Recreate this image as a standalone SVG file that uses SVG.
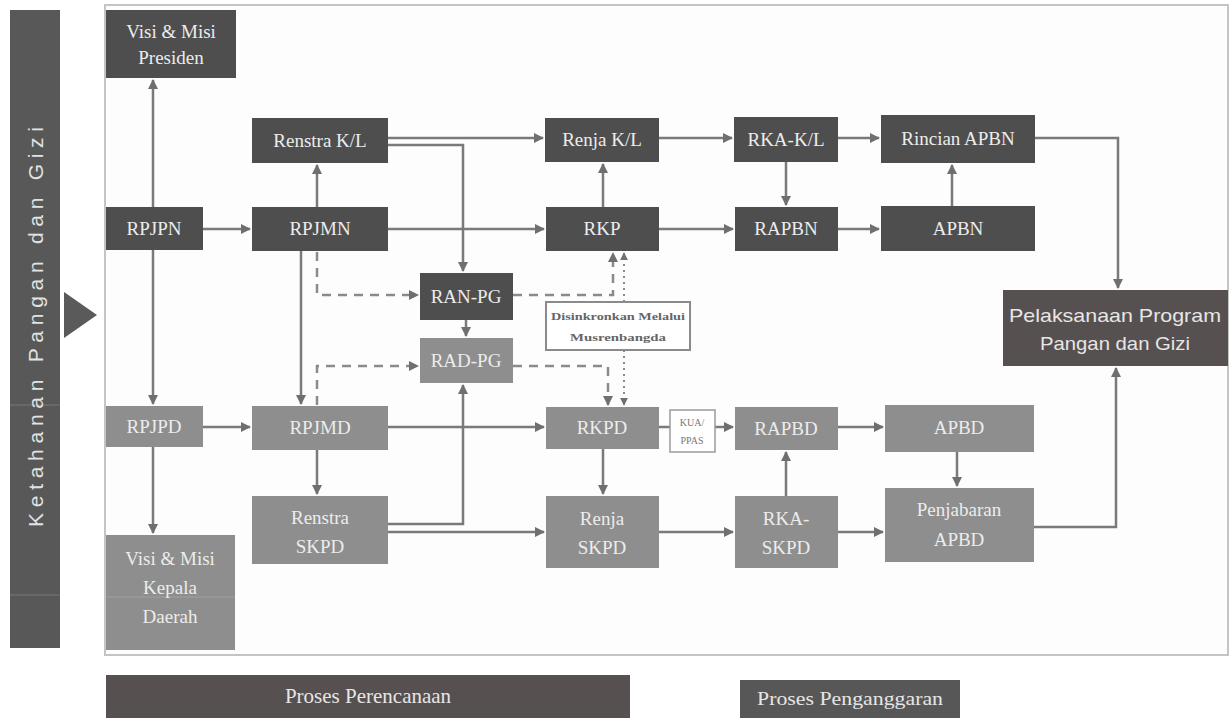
<svg xmlns="http://www.w3.org/2000/svg" width="1232" height="718" viewBox="0 0 1232 718">
<style>
.dk{fill:#4e4e4e}
.md{fill:#8e8e8e}
.t{font-family:"Liberation Serif",serif;font-size:19px;fill:#ececec;text-anchor:middle}
.ln{fill:none;stroke:#7a7a7a;stroke-width:2.5}
.ds{fill:none;stroke:#8a8a8a;stroke-width:2.5;stroke-dasharray:9 7}
.dt{fill:none;stroke:#8a8a8a;stroke-width:2;stroke-dasharray:2 4}
</style>
<defs>
<marker id="a" viewBox="0 0 10 10" refX="9" refY="5" markerWidth="4" markerHeight="4" orient="auto"><path d="M0,0 L10,5 L0,10 z" fill="#6f6f6f"/></marker>
</defs>
<rect width="1232" height="718" fill="#ffffff"/>
<rect x="105" y="5" width="1123" height="650" fill="#fdfdfd" stroke="#c4c4c4" stroke-width="2"/>
<g id="side">
<rect x="10" y="10" width="50" height="638" fill="#585858"/>
<line x1="10" y1="405" x2="60" y2="405" stroke="#777" stroke-width="1"/>
<line x1="10" y1="595" x2="60" y2="595" stroke="#777" stroke-width="1"/>
<text transform="translate(43,327) rotate(-90)" font-family="Liberation Sans,sans-serif" font-size="21" fill="#e2e2e2" text-anchor="middle" textLength="400" lengthAdjust="spacing">Ketahanan Pangan dan Gizi</text>
<path d="M64,292 L97,315 L64,338 z" fill="#5a5a5a"/>
</g>
<g id="connectors">
<path class="ln" d="M153,207 V80" marker-end="url(#a)"/>
<path class="ln" d="M203,229 H250" marker-end="url(#a)"/>
<path class="ln" d="M153,250 V404" marker-end="url(#a)"/>
<path class="ln" d="M317,207 V165" marker-end="url(#a)"/>
<path class="ln" d="M388,138 H543" marker-end="url(#a)"/>
<path class="ln" d="M388,145 H463 V271" marker-end="url(#a)"/>
<path class="ln" d="M388,229 H544" marker-end="url(#a)"/>
<path class="ln" d="M301,251 V404" marker-end="url(#a)"/>
<path class="ds" d="M317,252 V295 H418" marker-end="url(#a)"/>
<path class="ln" d="M603,207 V164" marker-end="url(#a)"/>
<path class="ln" d="M659,138 H732" marker-end="url(#a)"/>
<path class="ln" d="M786,162 V205" marker-end="url(#a)"/>
<path class="ln" d="M838,138 H879" marker-end="url(#a)"/>
<path class="ln" d="M659,229 H733" marker-end="url(#a)"/>
<path class="ln" d="M838,229 H879" marker-end="url(#a)"/>
<path class="ln" d="M952,206 V165" marker-end="url(#a)"/>
<path class="ln" d="M1035,138 H1118 V288" marker-end="url(#a)"/>
<path class="ln" d="M466,320 V336" marker-end="url(#a)"/>
<path class="ds" d="M513,295 H613 V253" marker-end="url(#a)"/>
<path class="dt" d="M624,302 V253" marker-end="url(#a)"/>
<path class="ds" d="M513,366 H608 V405" marker-end="url(#a)"/>
<path class="dt" d="M624,350 V405" marker-end="url(#a)"/>
<path class="ds" d="M317,405 V366 H418" marker-end="url(#a)"/>
<path class="ln" d="M203,427 H250" marker-end="url(#a)"/>
<path class="ln" d="M153,447 V533" marker-end="url(#a)"/>
<path class="ln" d="M317,450 V494" marker-end="url(#a)"/>
<path class="ln" d="M388,427 H544" marker-end="url(#a)"/>
<path class="ln" d="M388,524 H463 V385" marker-end="url(#a)"/>
<path class="ln" d="M388,532 H544" marker-end="url(#a)"/>
<path class="ln" d="M603,449 V494" marker-end="url(#a)"/>
<path class="ln" d="M659,427 H670"/>
<path class="ln" d="M715,427 H733" marker-end="url(#a)"/>
<path class="ln" d="M838,427 H883" marker-end="url(#a)"/>
<path class="ln" d="M786,496 V452" marker-end="url(#a)"/>
<path class="ln" d="M659,532 H733" marker-end="url(#a)"/>
<path class="ln" d="M838,532 H883" marker-end="url(#a)"/>
<path class="ln" d="M957,452 V486" marker-end="url(#a)"/>
<path class="ln" d="M1034,527 H1116 V368" marker-end="url(#a)"/>
</g>
<g id="visi-presiden"><rect class="dk" x="106" y="10" width="130" height="68"/><text class="t" x="171" y="38">Visi &amp; Misi</text><text class="t" x="171" y="64">Presiden</text></g>
<g id="rpjpn"><rect class="dk" x="106" y="207" width="97" height="43"/><text class="t" x="154" y="235">RPJPN</text></g>
<g id="renstra-kl"><rect class="dk" x="252" y="118" width="136" height="45"/><text class="t" x="320" y="147">Renstra K/L</text></g>
<g id="rpjmn"><rect class="dk" x="252" y="207" width="136" height="44"/><text class="t" x="320" y="235">RPJMN</text></g>
<g id="renja-kl"><rect class="dk" x="545" y="118" width="114" height="44"/><text class="t" x="602" y="146">Renja K/L</text></g>
<g id="rka-kl"><rect class="dk" x="734" y="117" width="104" height="45"/><text class="t" x="786" y="146">RKA-K/L</text></g>
<g id="rincian-apbn"><rect class="dk" x="881" y="115" width="154" height="48"/><text class="t" x="958" y="145">Rincian APBN</text></g>
<g id="rkp"><rect class="dk" x="546" y="207" width="113" height="44"/><text class="t" x="602" y="235">RKP</text></g>
<g id="rapbn"><rect class="dk" x="735" y="207" width="103" height="44"/><text class="t" x="786" y="235">RAPBN</text></g>
<g id="apbn"><rect class="dk" x="881" y="206" width="154" height="45"/><text class="t" x="958" y="235">APBN</text></g>
<g id="ran-pg"><rect class="dk" x="420" y="273" width="93" height="47"/><text class="t" x="466" y="303">RAN-PG</text></g>
<g id="rad-pg"><rect class="md" x="420" y="338" width="93" height="45"/><text class="t" x="466" y="367">RAD-PG</text></g>
<g id="note"><rect x="546" y="302" width="144" height="48" fill="#ffffff" stroke="#8a8a8a" stroke-width="2"/><text x="618" y="320" font-family="Liberation Serif,serif" font-size="11" font-weight="bold" fill="#666" text-anchor="middle" textLength="134" lengthAdjust="spacingAndGlyphs">Disinkronkan  Melalui</text><text x="618" y="341" font-family="Liberation Serif,serif" font-size="11" font-weight="bold" fill="#666" text-anchor="middle" textLength="96" lengthAdjust="spacingAndGlyphs">Musrenbangda</text></g>
<g id="pelaksanaan"><rect x="1003" y="290" width="225" height="76" fill="#575050"/><text x="1115" y="322" font-family="Liberation Sans,sans-serif" font-size="19" fill="#e6e6e6" text-anchor="middle" textLength="212" lengthAdjust="spacingAndGlyphs">Pelaksanaan Program</text><text x="1115" y="350" font-family="Liberation Sans,sans-serif" font-size="19" fill="#e6e6e6" text-anchor="middle" textLength="150" lengthAdjust="spacingAndGlyphs">Pangan dan Gizi</text></g>
<g id="rpjpd"><rect class="md" x="106" y="406" width="97" height="41"/><text class="t" x="154" y="433">RPJPD</text></g>
<g id="rpjmd"><rect class="md" x="252" y="406" width="136" height="44"/><text class="t" x="320" y="434">RPJMD</text></g>
<g id="rkpd"><rect class="md" x="546" y="407" width="113" height="42"/><text class="t" x="602" y="434">RKPD</text></g>
<g id="kua-ppas"><rect x="670" y="410" width="45" height="42" fill="#ffffff" stroke="#9a9a9a" stroke-width="1.5"/><text x="692" y="426" font-family="Liberation Serif,serif" font-size="10" fill="#777" text-anchor="middle">KUA/</text><text x="692" y="444" font-family="Liberation Serif,serif" font-size="10" fill="#777" text-anchor="middle">PPAS</text></g>
<g id="rapbd"><rect class="md" x="735" y="407" width="103" height="43"/><text class="t" x="786" y="435">RAPBD</text></g>
<g id="apbd"><rect class="md" x="885" y="405" width="149" height="47"/><text class="t" x="959" y="434">APBD</text></g>
<g id="renstra-skpd"><rect class="md" x="252" y="496" width="136" height="68"/><text class="t" x="320" y="524">Renstra</text><text class="t" x="320" y="553">SKPD</text></g>
<g id="renja-skpd"><rect class="md" x="546" y="496" width="113" height="72"/><text class="t" x="602" y="525">Renja</text><text class="t" x="602" y="554">SKPD</text></g>
<g id="rka-skpd"><rect class="md" x="735" y="496" width="103" height="72"/><text class="t" x="786" y="525">RKA-</text><text class="t" x="786" y="554">SKPD</text></g>
<g id="penjabaran-apbd"><rect class="md" x="885" y="488" width="149" height="74"/><text class="t" x="959" y="516">Penjabaran</text><text class="t" x="959" y="546">APBD</text></g>
<g id="visi-kepala-daerah"><rect class="md" x="106" y="535" width="129" height="115"/><line x1="106" y1="597" x2="235" y2="597" stroke="#a0a0a0" stroke-width="1"/><text class="t" x="170" y="565">Visi &amp; Misi</text><text class="t" x="170" y="594">Kepala</text><text class="t" x="170" y="623">Daerah</text></g>
<g id="proses-perencanaan"><rect x="106" y="675" width="524" height="43" fill="#575050"/><text x="368" y="703" font-family="Liberation Serif,serif" font-size="21" fill="#e6e6e6" text-anchor="middle">Proses Perencanaan</text></g>
<g id="proses-penganggaran"><rect x="740" y="680" width="220" height="38" fill="#575757"/><text x="850" y="705" font-family="Liberation Serif,serif" font-size="19" fill="#e6e6e6" text-anchor="middle" textLength="186" lengthAdjust="spacingAndGlyphs">Proses Penganggaran</text></g>
</svg>
